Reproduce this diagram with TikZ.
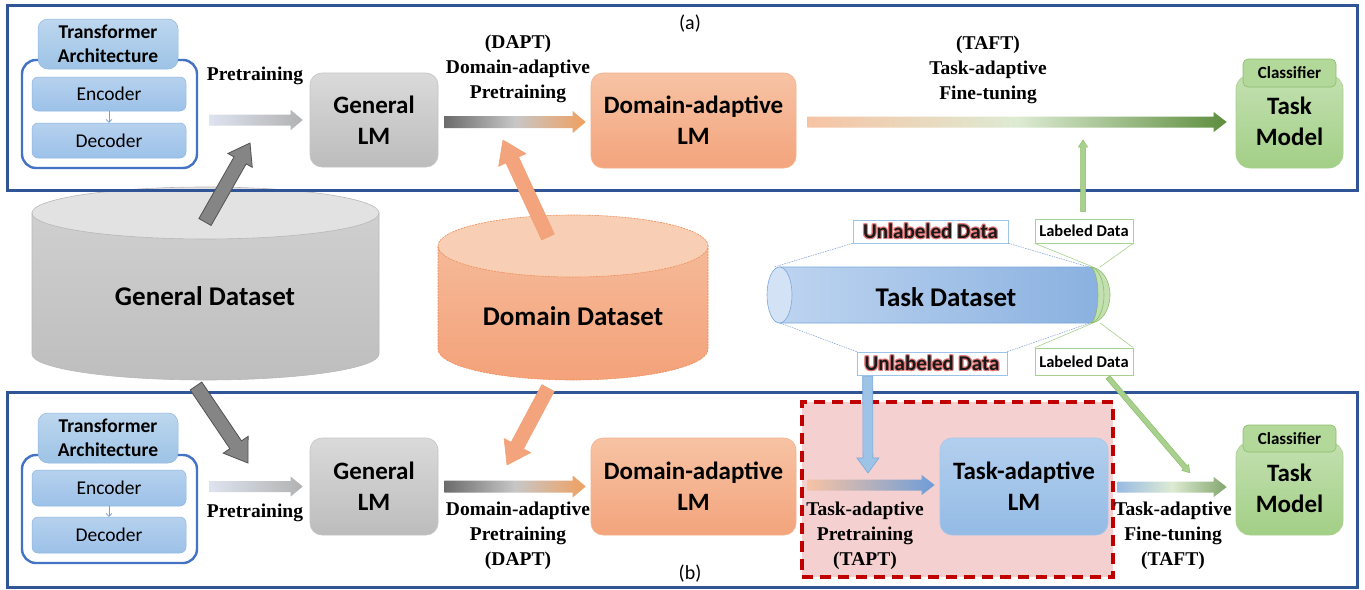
\documentclass[tikz,border=0pt]{standalone}
\usepackage{fontspec}
\setmainfont{Liberation Serif}
\setsansfont{Carlito}
\usetikzlibrary{calc,arrows.meta}

\definecolor{frameblue}{HTML}{2F5597}
\definecolor{outerblue}{HTML}{4472C4}
\definecolor{tabT}{HTML}{BDD7EE}
\definecolor{tabB}{HTML}{9DC3E6}
\definecolor{tabE}{HTML}{8FB8E3}
\definecolor{encT}{HTML}{B6D1EE}
\definecolor{encB}{HTML}{9CC1E8}
\definecolor{encE}{HTML}{8DB6E2}
\definecolor{grayT}{HTML}{DADADA}
\definecolor{grayB}{HTML}{BCBCBC}
\definecolor{grayE}{HTML}{C4C4C4}
\definecolor{oraT}{HTML}{F7C3A4}
\definecolor{oraB}{HTML}{F3A47C}
\definecolor{oraE}{HTML}{F4B18A}
\definecolor{bluT}{HTML}{B3CFEE}
\definecolor{bluB}{HTML}{93BBE5}
\definecolor{bluE}{HTML}{A5C6EA}
\definecolor{greT}{HTML}{C3E0B0}
\definecolor{greB}{HTML}{A2CF86}
\definecolor{greE}{HTML}{A9D18E}
\definecolor{greC}{HTML}{B2D89A}
\definecolor{greD}{HTML}{8CBC6C}
\definecolor{pinkfill}{HTML}{F4D0D0}
\definecolor{reddash}{HTML}{C00000}
\definecolor{glow}{HTML}{E57A7A}
\definecolor{dsgrayT}{HTML}{CFCFCF}
\definecolor{dsgrayB}{HTML}{BEBEBE}
\definecolor{dsgrayTop}{HTML}{E2E2E2}
\definecolor{dsgrayE}{HTML}{B8B8B8}
\definecolor{dsoraT}{HTML}{F5B998}
\definecolor{dsoraB}{HTML}{F4A27A}
\definecolor{dsoraTop}{HTML}{F8CFB5}
\definecolor{dsoraE}{HTML}{EE8B55}
\definecolor{tdL}{HTML}{BDD4F0}
\definecolor{tdR}{HTML}{8AB1E0}
\definecolor{tdE}{HTML}{7AA8DC}
\definecolor{tdFace}{HTML}{D3E2F5}
\definecolor{orarr}{HTML}{F0A060}
\definecolor{darkgreen}{HTML}{5E8E3E}
\definecolor{palegreen}{HTML}{DDEBD3}
\definecolor{midblue}{HTML}{6E9DD8}
\definecolor{lavgray}{HTML}{DDE3EF}
\definecolor{pregray}{HTML}{B2B2B2}

\newcommand\bxf{\sffamily\bfseries\fontsize{25}{31}\selectfont}
\newcommand\dsf{\sffamily\bfseries\fontsize{27}{32}\selectfont}
\newcommand\tabf{\sffamily\bfseries\fontsize{19.5}{24}\selectfont}
\newcommand\encf{\sffamily\fontsize{19.5}{24}\selectfont}
\newcommand\clsf{\sffamily\bfseries\fontsize{17}{20}\selectfont}
\newcommand\lblf{\rmfamily\bfseries\fontsize{19.5}{25}\selectfont}
\newcommand\ulf{\sffamily\bfseries\fontsize{21}{24}\selectfont}
\newcommand\lbf{\sffamily\bfseries\fontsize{16.5}{19}\selectfont}
\newcommand\abf{\sffamily\fontsize{20}{24}\selectfont}

\newcommand\glowtxt[1]{\leavevmode
\rlap{\textcolor{glow}{\hspace*{-1.1pt}#1}}%
\rlap{\textcolor{glow}{\hspace*{1.1pt}#1}}%
\rlap{\textcolor{glow}{\raisebox{1.1pt}{#1}}}%
\rlap{\textcolor{glow}{\raisebox{-1.1pt}{#1}}}%
\rlap{\textcolor{glow}{\hspace*{-.8pt}\raisebox{.8pt}{#1}}}%
\rlap{\textcolor{glow}{\hspace*{.8pt}\raisebox{.8pt}{#1}}}%
\rlap{\textcolor{glow}{\hspace*{-.8pt}\raisebox{-.8pt}{#1}}}%
\rlap{\textcolor{glow}{\hspace*{.8pt}\raisebox{-.8pt}{#1}}}%
\textcolor{black!90}{#1}}

% block arrow: style, from, to, shaft half width, head half width, head length
\newcommand\barrow[6]{%
 \path[#1] let \p1=(#2), \p2=(#3),
   \n1={atan2(\y2-\y1,\x2-\x1)}, \n2={veclen(\x2-\x1,\y2-\y1)} in
   [shift={(\p1)}, rotate=\n1]
   (0,#4) -- ({\n2-#6},#4) -- ({\n2-#6},#5) -- ({\n2},0)
   -- ({\n2-#6},-#5) -- ({\n2-#6},-#4) -- (0,-#4) -- cycle;}

\tikzset{
 frame/.style={draw=frameblue, line width=3pt, inner sep=0pt},
 lm/.style={rounded corners=12pt, align=center, inner sep=0pt, font=\bxf, text=black},
 graylm/.style={lm, top color=grayT, bottom color=grayB, draw=grayE, line width=0.6pt},
 oralm/.style={lm, top color=oraT, bottom color=oraB, draw=oraE, line width=0.6pt},
 bluelm/.style={lm, top color=bluT, bottom color=bluB, draw=bluE, line width=0.6pt},
 grelm/.style={lm, rounded corners=14pt, top color=greT, bottom color=greB, draw=greE, line width=0.6pt},
 clstab/.style={rounded corners=5pt, fill=greC, draw=greD, line width=0.6pt, font=\clsf, inner sep=0pt},
 taouter/.style={rounded corners=14pt, draw=outerblue, line width=2.4pt, fill=white},
 tatab/.style={rounded corners=10pt, top color=tabT, bottom color=tabB, draw=tabE, line width=0.5pt, font=\tabf, align=center, inner sep=0pt},
 encbox/.style={rounded corners=6pt, top color=encT, bottom color=encB, draw=encE, line width=0.5pt, font=\encf, inner sep=0pt},
 encarrow/.style={draw=outerblue!70, line width=0.6pt, -{Straight Barb[length=3pt,width=6pt]}},
 lbl/.style={font=\lblf, align=center, inner sep=0pt},
 dslbl/.style={font=\dsf, inner sep=0pt},
 ulbox/.style={draw=tabB, line width=0.6pt, fill=white, font=\ulf, inner sep=0pt},
 lbbox/.style={draw=greE, line width=0.6pt, fill=white, font=\lbf, inner sep=0pt},
 ullink/.style={draw=outerblue!70, line width=0.5pt, dash pattern=on 1.5pt off 1pt},
 lblink/.style={draw=greE, line width=0.6pt},
 grayarr/.style={fill=black!48, draw=black!68, line width=0.8pt},
 oraarr/.style={fill=oraB, draw=dsoraE!80, line width=0.6pt},
 bluearr/.style={fill=tabB, draw=tdE, line width=0.6pt},
 greenarr/.style={fill=greE, draw=greD, line width=0.5pt},
}

\begin{document}
\begin{tikzpicture}[x=1pt,y=-1pt]
\useasboundingbox (0,0) rectangle (1365,589);
\fill[white] (0,0) rectangle (1365,589);

% ---------- datasets ----------
\path[top color=dsgrayT, bottom color=dsgrayB, draw=dsgrayE, line width=0.6pt]
  (32,213) -- (32,354) arc[start angle=180,end angle=360,x radius=173.5pt,y radius=26pt] -- (379,213) -- cycle;
\path[fill=dsgrayTop, draw=dsgrayE, line width=0.6pt] (205.5,213) ellipse[x radius=173.5pt,y radius=26pt];
\node[dslbl] (gds) at (205,296) {General Dataset};

\path[top color=dsoraT, bottom color=dsoraB, draw=dsoraE, line width=0.6pt, dash pattern=on 2pt off 1pt]
  (438,246) -- (438,349) arc[start angle=180,end angle=360,x radius=135pt,y radius=31pt] -- (708,246) -- cycle;
\path[fill=dsoraTop, draw=dsoraE, line width=0.6pt, dash pattern=on 2pt off 1pt] (573,246) ellipse[x radius=135pt,y radius=31pt];
\node[dslbl] (dds) at (573,316) {Domain Dataset};

\path[left color=tdL, right color=tdR, draw=tdE, line width=0.6pt]
  (779.5,267) -- (1090,267) arc[start angle=90,end angle=-90,x radius=8pt,y radius=28pt] -- (779.5,323) -- cycle;
\path[fill=tdFace, draw=tdE, line width=0.6pt] (779.5,295) ellipse[x radius=12.5pt,y radius=28pt];
\path[fill=greT, draw=greD, line width=0.6pt]
  (1090,267) arc[start angle=90,end angle=-90,x radius=8pt,y radius=28pt]
  arc[start angle=-90,end angle=90,x radius=20pt,y radius=28pt] -- cycle;
\draw[greD, line width=0.6pt] (1090,267) arc[start angle=90,end angle=-90,x radius=14pt,y radius=28pt];
\node[dslbl] (tds) at (946,297) {Task Dataset};
\coordinate (tdTL) at (774,267);
\coordinate (tdBL) at (780,323);
\coordinate (tdTR) at (1089,267);
\coordinate (tdBR) at (1090,323);
\coordinate (tdGT) at (1093,267);
\coordinate (tdGT2) at (1100,267);
\coordinate (tdGB) at (1093,323);
\coordinate (tdGB2) at (1100,323);

% callouts
\node[ulbox, minimum width=155pt, minimum height=23pt] (ul1) at (930.5,231.5) {\glowtxt{Unlabeled Data}};
\node[ulbox, minimum width=150pt, minimum height=23pt] (ul2) at (932,363.5) {\glowtxt{Unlabeled Data}};
\node[lbbox, minimum width=98pt, minimum height=24pt] (lb1) at (1084,231) {Labeled Data};
\node[lbbox, minimum width=98pt, minimum height=27pt] (lb2) at (1084,361.5) {Labeled Data};
\draw[ullink] (ul1.south west) -- (tdTL);
\draw[ullink] (ul1.south east) -- (tdTR);
\draw[ullink] (ul2.north west) -- (tdBL);
\draw[ullink] (ul2.north east) -- (tdBR);
\draw[lblink] (lb1.south west) -- (tdGT);
\draw[lblink] (lb1.south east) -- (tdGT2);
\draw[lblink] (lb2.north west) -- (tdGB);
\draw[lblink] (lb2.north east) -- (tdGB2);

% ---------- frames ----------
\node[frame, minimum width=1350pt, minimum height=185pt] (fa) at (682,97.5) {};
\node[frame, minimum width=1350pt, minimum height=195pt] (fb) at (682,489.5) {};
\node[font=\abf, inner sep=0pt] (la) at (690,24) {(a)};
\node[font=\abf, inner sep=0pt] (lbb) at (690,574) {(b)};

% ---------- panel (a) ----------
\node[taouter, minimum width=175pt, minimum height=108pt] (ta1o) at (109.5,114) {};
\node[tatab, minimum width=140pt, minimum height=50pt] (ta1t) at (108,44) {Transformer\\Architecture};
\node[encbox, minimum width=154pt, minimum height=34pt] (enc1) at (109,94) {Encoder};
\node[encbox, minimum width=154pt, minimum height=35pt] (dec1) at (109,140.5) {Decoder};
\draw[encarrow] (enc1.south) -- (dec1.north);

\node[graylm, minimum width=128pt, minimum height=94pt] (gen1) at (374,120) {General\\LM};
\node[oralm, minimum width=205pt, minimum height=95pt] (dalm1) at (693.5,120.5) {Domain-adaptive\\LM};
\node[grelm, minimum width=107pt, minimum height=93pt] (tm1) at (1289.5,121.5) {Task\\Model};
\node[clstab, minimum width=93pt, minimum height=28pt] (cls1) at (1289.5,73) {Classifier};

\node[lbl] (pl1) at (255,76) {Pretraining};
\node[lbl] (dl1) at (518,69) {(DAPT)\\Domain-adaptive\\Pretraining};
\node[lbl] (tl1) at (988,70) {(TAFT)\\Task-adaptive\\Fine-tuning};

\barrow{left color=lavgray, right color=pregray}{$(ta1o.east|-gen1.west)+(11,0)$}{$(gen1.west)+(-7,0)$}{5.5}{10}{12}
\barrow{left color=black!58, right color=orarr, middle color=black!22}{$(gen1.east)+(6,2)$}{$(dalm1.west)+(-5,1.5)$}{6}{11}{13}
\barrow{left color=oraT, right color=darkgreen, middle color=palegreen}{$(dalm1.east)+(11,1.5)$}{$(tm1.west)+(-9,0.5)$}{5.5}{10}{13}

% ---------- panel (b) ----------
\node[taouter, minimum width=175pt, minimum height=108pt] (ta2o) at (109.5,509) {};
\node[tatab, minimum width=140pt, minimum height=50pt] (ta2t) at (108,438) {Transformer\\Architecture};
\node[encbox, minimum width=154pt, minimum height=36pt] (enc2) at (109,488) {Encoder};
\node[encbox, minimum width=154pt, minimum height=36pt] (dec2) at (109,535) {Decoder};
\draw[encarrow] (enc2.south) -- (dec2.north);

\node[graylm, minimum width=128pt, minimum height=97pt] (gen2) at (374,486.5) {General\\LM};
\node[oralm, minimum width=205pt, minimum height=97pt] (dalm2) at (693.5,486.5) {Domain-adaptive\\LM};
\node[draw=reddash, line width=3.5pt, dash pattern=on 11pt off 7pt, fill=pinkfill,
      minimum width=311pt, minimum height=175pt, inner sep=0pt] (tbox) at (957.5,489.5) {};
\node[bluelm, minimum width=168pt, minimum height=97pt] (talm) at (1024,486.5) {Task-adaptive\\LM};
\node[grelm, minimum width=107pt, minimum height=93pt] (tm2) at (1289.5,488.5) {Task\\Model};
\node[clstab, minimum width=93pt, minimum height=27pt] (cls2) at (1289.5,438.5) {Classifier};

\node[lbl] (pl2) at (255,513) {Pretraining};
\node[lbl] (dl2) at (518,536) {Domain-adaptive\\Pretraining\\(DAPT)};
\node[lbl] (tpl) at (865,536) {Task-adaptive\\Pretraining\\(TAPT)};
\node[lbl] (tl2) at (1173,536) {Task-adaptive\\Fine-tuning\\(TAFT)};

\barrow{left color=lavgray, right color=pregray}{$(ta2o.east|-gen2.west)+(11,0)$}{$(gen2.west)+(-7,0)$}{5.5}{10}{12}
\barrow{left color=black!58, right color=orarr, middle color=black!22}{$(gen2.east)+(6,0)$}{$(dalm2.west)+(-5,0)$}{6}{11}{13}
\barrow{left color=oraT, right color=midblue}{$(dalm2.east)+(11,-1.5)$}{$(talm.west)+(-5,-1.5)$}{5.5}{10}{13}
\barrow{left color=midblue!70, right color=greB!80!black, middle color=palegreen}{$(talm.east)+(9,0.5)$}{$(tm2.west|-talm.east)+(-9,0.5)$}{5.5}{10}{13}

% ---------- cross arrows ----------
\coordinate (gt1) at (205,222);
\coordinate (gh1) at (250,143);
\coordinate (gt2) at (196,386);
\coordinate (gh2) at (248,463);
\coordinate (dt1) at (548,237);
\coordinate (dh1) at (503,140);
\coordinate (dt2) at (548,388);
\coordinate (dh2) at (507,465);
\coordinate (bdh) at (868,473);
\coordinate (guh) at (1083,140);
\coordinate (gdh) at (1190,473);
\barrow{grayarr}{gt1}{gh1}{7}{14}{20}
\barrow{grayarr}{gt2}{gh2}{7}{15}{22}
\barrow{oraarr}{dt1}{dh1}{7}{15}{22}
\barrow{oraarr}{dt2}{dh2}{7}{15}{22}
\barrow{bluearr}{$(ul2.south west)+(11,1)$}{bdh}{5}{11}{15}
\barrow{greenarr}{$(lb1.north)+(-1,-7)$}{guh}{2.5}{4.5}{7}
\barrow{greenarr}{$(lb2.south)+(24,2)$}{gdh}{2.5}{4.5}{7}
\end{tikzpicture}
\end{document}
